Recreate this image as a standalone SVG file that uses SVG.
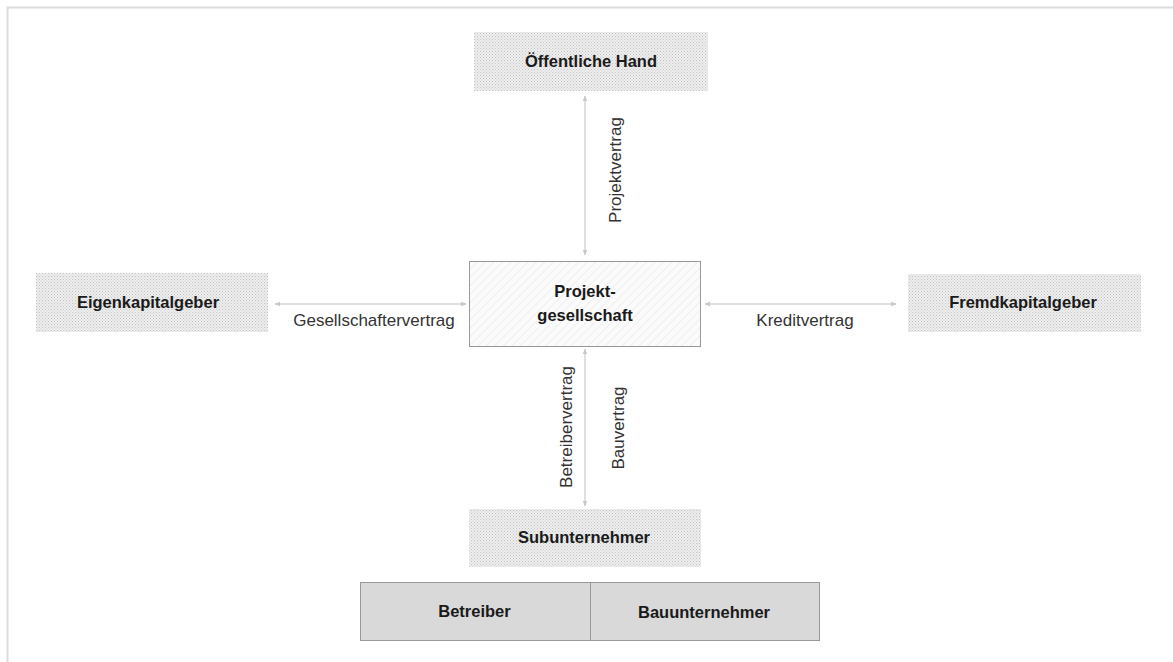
<svg xmlns="http://www.w3.org/2000/svg" width="1173" height="662" viewBox="0 0 1173 662">
<style>
.node{font-family:"Liberation Sans",Arial,sans-serif;font-weight:bold;font-size:16.5px;fill:#1a1a1a;text-anchor:middle}
.lbl{font-family:"Liberation Sans",Arial,sans-serif;font-size:17px;fill:#333;text-anchor:middle}
.dot{fill:url(#dots)}
.conn{stroke:#d4d4d4;stroke-width:1.5;fill:none;marker-start:url(#ah);marker-end:url(#ah)}
</style>
<defs>
<pattern id="dots" width="3" height="3" patternUnits="userSpaceOnUse">
<rect width="3" height="3" fill="#eeeeee"/>
<rect width="1" height="1" fill="#c2c2c2"/>
<rect x="1.5" y="1.5" width="1" height="1" fill="#cccccc"/>
</pattern>
<pattern id="hatch" width="6" height="6" patternUnits="userSpaceOnUse" patternTransform="rotate(45)">
<rect width="6" height="6" fill="#fbfbfb"/>
<line x1="0" y1="0" x2="0" y2="6" stroke="#ececec" stroke-width="1.5"/>
</pattern>
<marker id="ah" viewBox="0 0 10 10" refX="9" refY="5" markerWidth="6" markerHeight="6" orient="auto-start-reverse" markerUnits="userSpaceOnUse">
<path d="M0,1 L10,5 L0,9 Z" fill="#c8c8c8"/>
</marker>
</defs>
<rect x="7.5" y="7.5" width="1200" height="700" fill="#fff" stroke="#dcdcdc" stroke-width="2"/>
<g id="connectors">
<line class="conn" x1="585" y1="96" x2="585" y2="255"/>
<line class="conn" x1="275" y1="304" x2="466" y2="304"/>
<line class="conn" x1="705" y1="304" x2="896" y2="304"/>
<line class="conn" x1="585" y1="349" x2="585" y2="506"/>
<text class="lbl" transform="translate(621,170) rotate(-90)">Projektvertrag</text>
<text class="lbl" x="374" y="326">Gesellschaftervertrag</text>
<text class="lbl" x="805" y="326">Kreditvertrag</text>
<text class="lbl" transform="translate(572,427) rotate(-90)">Betreibervertrag</text>
<text class="lbl" transform="translate(624,428) rotate(-90)">Bauvertrag</text>
</g>
<g id="oeffentliche-hand">
<rect class="dot" x="474" y="32" width="234" height="59"/>
<text class="node" x="591" y="67">Öffentliche Hand</text>
</g>
<g id="projektgesellschaft">
<rect x="469.5" y="261.5" width="231" height="85" fill="url(#hatch)" stroke="#999" stroke-width="1"/>
<text class="node" x="585" y="297">Projekt-</text>
<text class="node" x="585" y="321">gesellschaft</text>
</g>
<g id="eigenkapitalgeber">
<rect class="dot" x="36" y="273" width="232" height="59"/>
<text class="node" x="148" y="308">Eigenkapitalgeber</text>
</g>
<g id="fremdkapitalgeber">
<rect class="dot" x="908" y="274" width="233" height="58"/>
<text class="node" x="1023" y="308">Fremdkapitalgeber</text>
</g>
<g id="subunternehmer">
<rect class="dot" x="469" y="509" width="232" height="58"/>
<text class="node" x="584" y="543">Subunternehmer</text>
</g>
<g id="betreiber">
<rect x="360.5" y="582.5" width="230" height="58" fill="#d9d9d9" stroke="#999" stroke-width="1"/>
<text class="node" x="474.5" y="617">Betreiber</text>
</g>
<g id="bauunternehmer">
<rect x="590.5" y="582.5" width="229" height="58" fill="#d9d9d9" stroke="#999" stroke-width="1"/>
<text class="node" x="704" y="618">Bauunternehmer</text>
</g>
</svg>
